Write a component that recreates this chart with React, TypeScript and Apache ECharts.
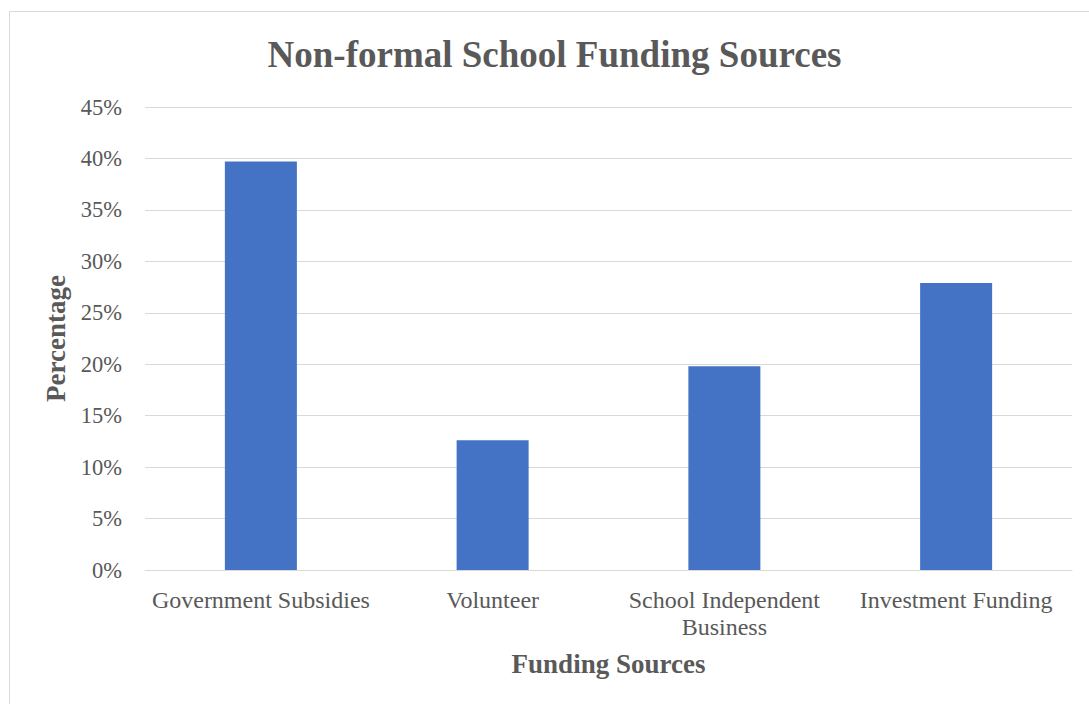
import React, { useEffect, useRef } from "react";
import * as echarts from "echarts";

const categories = [
  "Government Subsidies",
  "Volunteer",
  "School Independent\nBusiness",
  "Investment Funding",
];
const values = [39.7, 12.6, 19.8, 27.9];
const yTicks = { min: 0, max: 45, interval: 5 };

const FONT = "'Liberation Serif', 'Times New Roman', serif";
const GREY = "#595959";

export default function App() {
  const ref = useRef<HTMLDivElement>(null);
  useEffect(() => {
    if (!ref.current) return;
    const chart = echarts.init(ref.current, null, { renderer: "svg" });
    chart.setOption({
      animation: false,
      backgroundColor: "#ffffff",
      title: {
        text: "Non-formal School Funding Sources",
        left: 554.5,
        top: 36,
        textAlign: "center",
        padding: 0,
        textStyle: { fontFamily: FONT, fontSize: 37, fontWeight: "bold", color: GREY },
      },
      graphic: [
        {
          type: "rect",
          shape: { x: 9.5, y: 11.5, width: 1200, height: 800 },
          style: { fill: "none", stroke: "#d9d9d9", lineWidth: 1 },
          silent: true,
        },
      ],
      grid: { left: 145, right: 17, top: 107, bottom: 134 },
      xAxis: {
        type: "category",
        data: categories,
        name: "Funding Sources",
        nameLocation: "middle",
        nameGap: 80,
        nameTextStyle: { fontFamily: FONT, fontSize: 27, fontWeight: "bold", color: GREY },
        axisLine: { show: true, lineStyle: { color: "#d9d9d9", width: 1 } },
        axisTick: { show: false },
        axisLabel: {
          fontFamily: FONT,
          fontSize: 24,
          color: GREY,
          margin: 16,
          lineHeight: 27,
          interval: 0,
        },
      },
      yAxis: {
        type: "value",
        min: yTicks.min,
        max: yTicks.max,
        interval: yTicks.interval,
        name: "Percentage",
        nameLocation: "middle",
        nameGap: 73,
        nameRotate: 90,
        nameTextStyle: { fontFamily: FONT, fontSize: 27, fontWeight: "bold", color: GREY },
        axisLine: { show: false },
        axisTick: { show: false },
        splitLine: { lineStyle: { color: "#d9d9d9", width: 1 } },
        axisLabel: {
          fontFamily: FONT,
          fontSize: 22.5,
          color: GREY,
          margin: 23,
          formatter: (v: number) => `${v}%`,
        },
      },
      series: [
        {
          type: "bar",
          data: values,
          barWidth: 72,
          itemStyle: { color: "#4472c4" },
        },
      ],
    });
    return () => chart.dispose();
  }, []);
  return (
    <div
      ref={ref}
      style={{ position: "fixed", left: 0, top: 0, width: 1089, height: 704 }}
    />
  );
}
